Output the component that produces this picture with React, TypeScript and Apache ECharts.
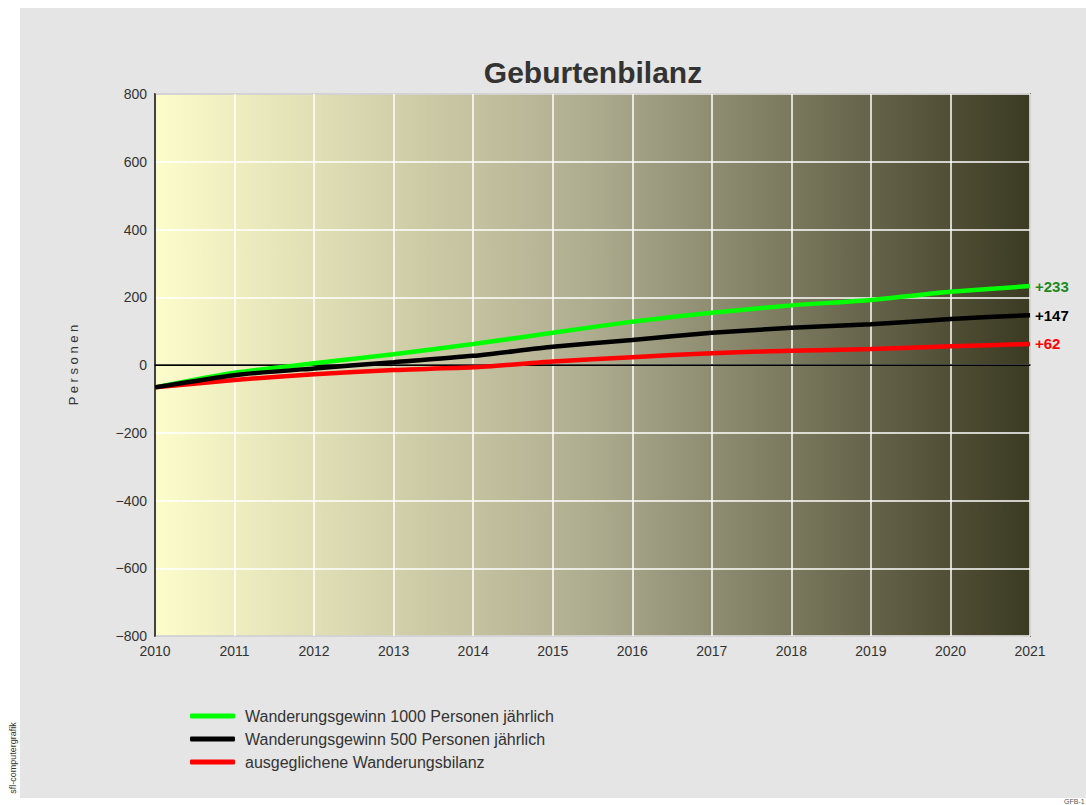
import React, { useEffect, useRef } from "react";
import * as echarts from "echarts";

const years = [2010, 2011, 2012, 2013, 2014, 2015, 2016, 2017, 2018, 2019, 2020, 2021];
const gain1000 = [-66, -23, 5, 32, 62, 95, 128, 154, 176, 192, 216, 233];
const gain500 = [-66, -30, -10, 8, 27, 54, 74, 95, 110, 120, 136, 147];
const balanced = [-66, -44, -27, -15, -7, 10, 23, 35, 42, 47, 55, 62];
const seriesNames = [
  "Wanderungsgewinn 1000 Personen jährlich",
  "Wanderungsgewinn 500 Personen jährlich",
  "ausgeglichene Wanderungsbilanz",
];
const yTicks = { min: -800, max: 800, interval: 200 };

const FONT = '"Liberation Sans", Arial, Helvetica, sans-serif';

export default function App() {
  const ref = useRef<HTMLDivElement>(null);
  useEffect(() => {
    if (!ref.current) return;
    const chart = echarts.init(ref.current, undefined, { renderer: "svg" });
    const pairs = (vals: number[]) => years.map((y, i) => [y, vals[i]]);
    const mk = (name: string, vals: number[], color: string, labelColor: string, z: number) => ({
      name,
      type: "line",
      data: pairs(vals),
      showSymbol: false,
      symbol: "none",
      smooth: 0.2,
      z,
      lineStyle: { color, width: 4.5, cap: "butt" },
      itemStyle: { color },
      endLabel: {
        show: true,
        formatter: (p: any) => "+" + p.value[1],
        color: labelColor,
        fontWeight: "bold",
        fontSize: 15,
        fontFamily: FONT,
        distance: 5,
      },
    });
    chart.setOption({
      animation: false,
      backgroundColor: "#ffffff",
      textStyle: { fontFamily: FONT },
      graphic: [
        { type: "rect", z: -10, shape: { x: 20, y: 8, width: 1066, height: 790 }, style: { fill: "#e5e5e5" } },
        {
          type: "text",
          x: 593,
          y: 72,
          style: {
            text: "Geburtenbilanz",
            font: `bold 30px ${FONT}`,
            fill: "#333333",
            textAlign: "center",
            textVerticalAlign: "middle",
          },
        },
        {
          type: "text",
          x: 73,
          y: 365,
          rotation: Math.PI / 2,
          style: {
            text: "P e r s o n e n",
            font: `13px ${FONT}`,
            fill: "#333333",
            textAlign: "center",
            textVerticalAlign: "middle",
          },
        },
        {
          type: "text",
          x: 13,
          y: 758,
          rotation: Math.PI / 2,
          style: {
            text: "sfl-computergrafik",
            font: `9px ${FONT}`,
            fill: "#333333",
            textAlign: "center",
            textVerticalAlign: "middle",
          },
        },
        {
          type: "text",
          x: 1064,
          y: 798,
          style: { text: "GFB-1", font: `7px ${FONT}`, fill: "#555555" },
        },
      ],
      grid: {
        left: 155,
        top: 94,
        width: 875,
        height: 542,
        show: true,
        borderColor: "#222222",
        borderWidth: 1.5,
        backgroundColor: new echarts.graphic.LinearGradient(0, 0, 1, 0, [
          { offset: 0, color: "#fdfccb" },
          { offset: 0.5, color: "#aeac8f" },
          { offset: 1, color: "#3b3a22" },
        ]),
      },
      legend: {
        data: seriesNames,
        orient: "vertical",
        left: 190,
        top: 708,
        padding: 0,
        icon: "roundRect",
        itemWidth: 45,
        itemHeight: 5,
        itemGap: 7,
        textStyle: { fontSize: 16, color: "#333333", lineHeight: 16, padding: [0, 0, 0, 5], fontFamily: FONT },
      },
      xAxis: {
        type: "value",
        min: 2010,
        max: 2021,
        interval: 1,
        axisLine: { show: true, lineStyle: { color: "#111", width: 1.5 } },
        axisTick: { show: false },
        axisLabel: { fontSize: 14, color: "#333333", margin: 8, formatter: (v: number) => String(v) },
        splitLine: { show: true, lineStyle: { color: "#ffffff", width: 1.5 } },
      },
      yAxis: {
        type: "value",
        min: yTicks.min,
        max: yTicks.max,
        interval: yTicks.interval,
        axisLine: { show: true, onZero: false, lineStyle: { color: "#111", width: 1.5 } },
        axisTick: { show: false },
        axisLabel: {
          fontSize: 14,
          color: "#333333",
          margin: 8,
          formatter: (v: number) => (v < 0 ? "\u2212" + Math.abs(v) : String(v)),
        },
        splitLine: { show: true, lineStyle: { color: "#ffffff", width: 1.5 } },
      },
      series: [
        {
          ...mk(seriesNames[0], gain1000, "#00ff00", "#1e8a1e", 3),
          markLine: {
            silent: true,
            symbol: "none",
            label: { show: false },
            lineStyle: { color: "#000000", width: 1, type: "solid" },
            data: [{ yAxis: 0 }],
            z: 1,
          },
        },
        mk(seriesNames[1], gain500, "#000000", "#000000", 5),
        mk(seriesNames[2], balanced, "#ff0000", "#ff0000", 4),
      ],
    });
    return () => chart.dispose();
  }, []);
  return (
    <div
      ref={ref}
      style={{ position: "absolute", left: 0, top: 0, width: 1086, height: 805 }}
    />
  );
}
